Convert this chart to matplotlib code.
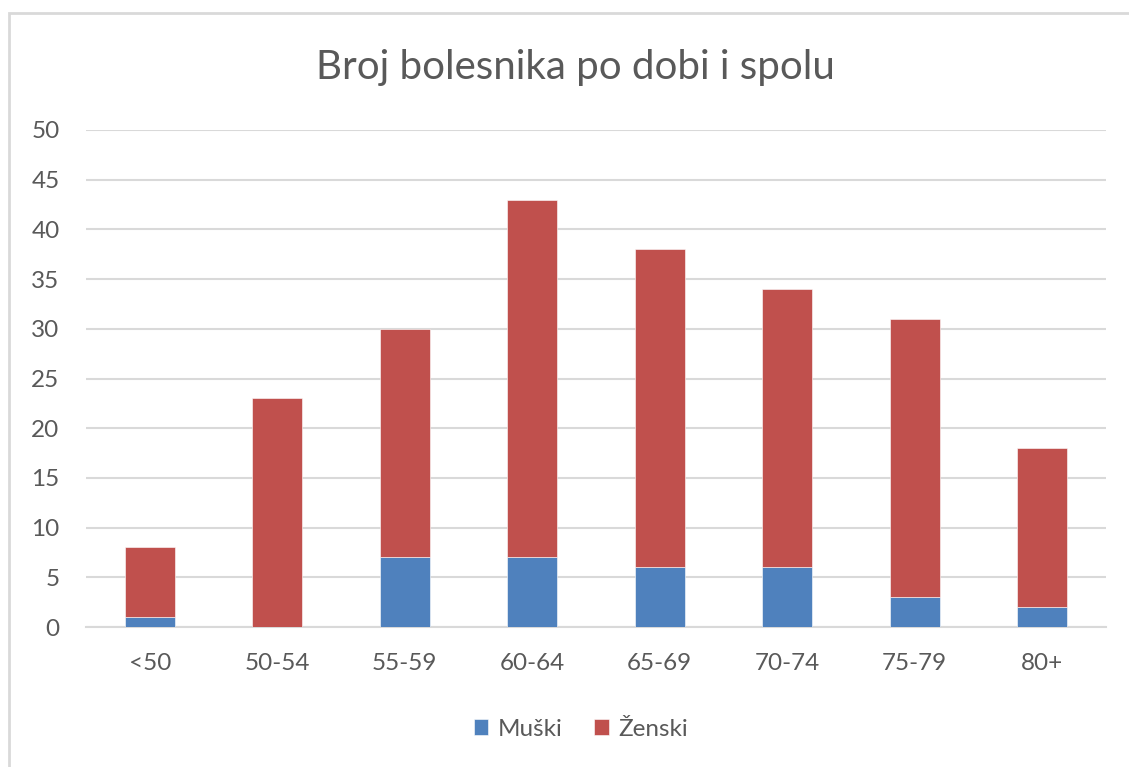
import numpy as np
import matplotlib.pyplot as plt
from matplotlib.patches import Rectangle

# data
groups = ['<50', '50-54', '55-59', '60-64', '65-69', '70-74', '75-79', '80+']
muski = [1, 0, 7, 7, 6, 6, 3, 2]
zenski = [7, 23, 23, 36, 32, 28, 28, 16]

plt.rcParams['font.family'] = ['Lato', 'DejaVu Sans']
txt = '#595959'

fig = plt.figure(figsize=(11.29, 7.67), dpi=100)
ax = fig.add_axes([86/1129, 1-627/767, 1020/1129, 497/767])

x = np.arange(len(groups))
w = 0.39
ax.bar(x, muski, w, color='#4f81bd', edgecolor='#ffffff', linewidth=0.4, label='Muški', zorder=3)
ax.bar(x, zenski, w, bottom=muski, color='#c0504d', edgecolor='#ffffff', linewidth=0.4, label='Ženski', zorder=3)

ax.set_xlim(-0.5, len(groups)-0.5)
ax.set_ylim(0, 50)
ax.set_yticks(range(0, 51, 5))
ax.set_xticks(x)
ax.set_xticklabels(groups)
ax.grid(axis='y', color='#d9d9d9', linewidth=1.5, zorder=0)
for s in ['top', 'right', 'left']:
    ax.spines[s].set_visible(False)
ax.spines['bottom'].set_color('#d9d9d9')
ax.spines['bottom'].set_linewidth(1.5)
ax.tick_params(length=0, labelsize=17.5, colors=txt)
ax.tick_params(axis='x', pad=19)
ax.tick_params(axis='y', pad=19)

fig.text(575/1129, 1-68/767, 'Broj bolesnika po dobi i spolu', ha='center', va='center',
         fontsize=29, color=txt)

leg = fig.legend(loc='center', bbox_to_anchor=(581/1129, 1-729/767), ncol=2, frameon=False,
                 fontsize=17.5, handlelength=0.6, handleheight=0.6, handletextpad=0.4,
                 columnspacing=1.3)
for t in leg.get_texts():
    t.set_color(txt)

# outer chart border
fig.patches.append(Rectangle((9/1129, -0.05), 1.2, 1-13/767+0.05, transform=fig.transFigure,
                             fill=False, edgecolor='#d9d9d9', linewidth=2))

fig.savefig('out.png', dpi=100)
